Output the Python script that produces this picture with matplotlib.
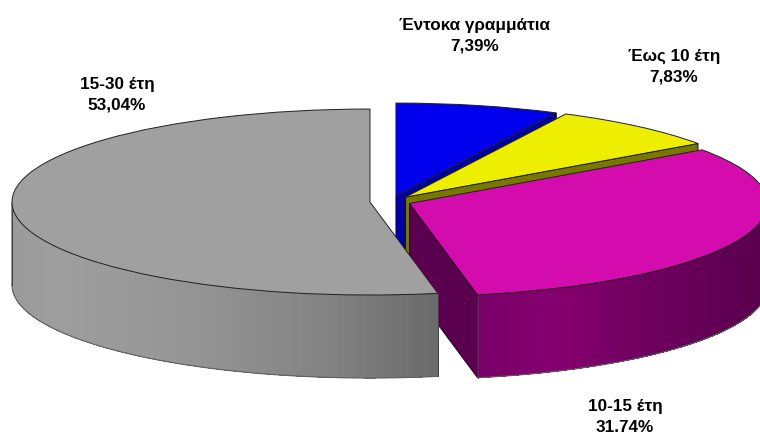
import numpy as np
import matplotlib
matplotlib.use("Agg")
import matplotlib.pyplot as plt
from matplotlib.patches import Polygon

categories = ["Έντοκα γραμμάτια", "Έως 10 έτη", "10-15 έτη", "15-30 έτη"]
values = [7.39, 7.83, 31.74, 53.04]
value_labels = ["7,39%", "7,83%", "31.74%", "53,04%"]
explode = [0.06, 0.062, 0.056, 0.059]

top_colors = ["#0000EE", "#EEEE00", "#D40CAE", "#A0A0A0"]
cut_colors = ["#0000A8", "#787800", "#5A004E", "#6A6A6A"]
# side wall shading as a function of pixel x
wall_x = {2: [479, 560, 640, 760], 3: [10, 60, 200, 330, 437]}
wall_rgb = {2: ["#7A0068", "#85006F", "#70005F", "#5A004E"],
            3: ["#9A9A9A", "#9E9E9E", "#949494", "#828282", "#6A6A6A"]}

W, H = 760, 436
RX, RY = 358.0, 93.0
CX, CY = 391.0, 201.5
DEPTH = 83.0 / RY

fig = plt.figure(figsize=(W / 100, H / 100), dpi=100)
ax = fig.add_axes([0, 0, 1, 1])

wedges, _ = ax.pie(values, explode=explode, colors=top_colors, startangle=90,
                   counterclock=False, radius=1.0, normalize=True,
                   wedgeprops=dict(edgecolor="#202020", linewidth=0.7))
ax.set_aspect("auto")
ax.set_xlim(-CX / RX, (W - CX) / RX)
ax.set_ylim((CY - H) / RY, CY / RY)


def px(xp, yp):
    return (xp - CX) / RX, (CY - yp) / RY


def hex2rgb(c):
    return np.array(matplotlib.colors.to_rgb(c))


def wall_color(i, x_data):
    xp = x_data * RX + CX
    cols = np.array([hex2rgb(c) for c in wall_rgb[i]])
    return tuple(np.interp(xp, wall_x[i], cols[:, k]) for k in range(3))


edges = np.concatenate([[0], np.cumsum(values)]) / np.sum(values) * 2 * np.pi
EDGE = "#101010"

for i, w in enumerate(wedges):
    w.set_zorder(2 * i + 2)
    z = 2 * i + 1
    t1, t2 = edges[i], edges[i + 1]
    mid = (t1 + t2) / 2
    ox, oy = explode[i] * np.sin(mid), explode[i] * np.cos(mid)
    # straight cut faces that look towards the viewer
    for t, visible in ((t2, np.sin(t2) > 1e-6), (t1, np.sin(t1) < -1e-6)):
        if visible:
            ex, ey = ox + np.sin(t), oy + np.cos(t)
            ax.add_patch(Polygon([(ox, oy), (ex, ey), (ex, ey - DEPTH), (ox, oy - DEPTH)],
                                 closed=True, fc=cut_colors[i], ec=EDGE, lw=0.7, zorder=z))
    # curved outer wall, front half only
    a, b = max(t1, np.pi / 2), min(t2, 3 * np.pi / 2)
    if b > a:
        ts = np.linspace(a, b, 70)
        xs, ys = ox + np.sin(ts), oy + np.cos(ts)
        for k in range(len(ts) - 1):
            c = wall_color(i, (xs[k] + xs[k + 1]) / 2)
            ax.add_patch(Polygon([(xs[k], ys[k]), (xs[k + 1], ys[k + 1]),
                                  (xs[k + 1], ys[k + 1] - DEPTH), (xs[k], ys[k] - DEPTH)],
                                 closed=True, fc=c, ec="none", lw=0, antialiased=False, zorder=z))
        ax.plot(xs, ys - DEPTH, color="#606060", lw=0.8, zorder=z)
        for xv, yv in ((xs[0], ys[0]), (xs[-1], ys[-1])):
            ax.plot([xv, xv], [yv, yv - DEPTH], color="#404040", lw=0.7, zorder=z)

label_pos = [(475, 36), (674, 67), (625, 417), (117, 95)]
for cat, val, (xp, yp) in zip(categories, value_labels, label_pos):
    xd, yd = px(xp, yp)
    ax.text(xd, yd, f"{cat}\n{val}", ha="center", va="center", family="Liberation Sans",
            fontweight="bold", fontsize=12.3, linespacing=1.47, color="black", zorder=20)

fig.savefig("out.png", dpi=100, facecolor="white")
